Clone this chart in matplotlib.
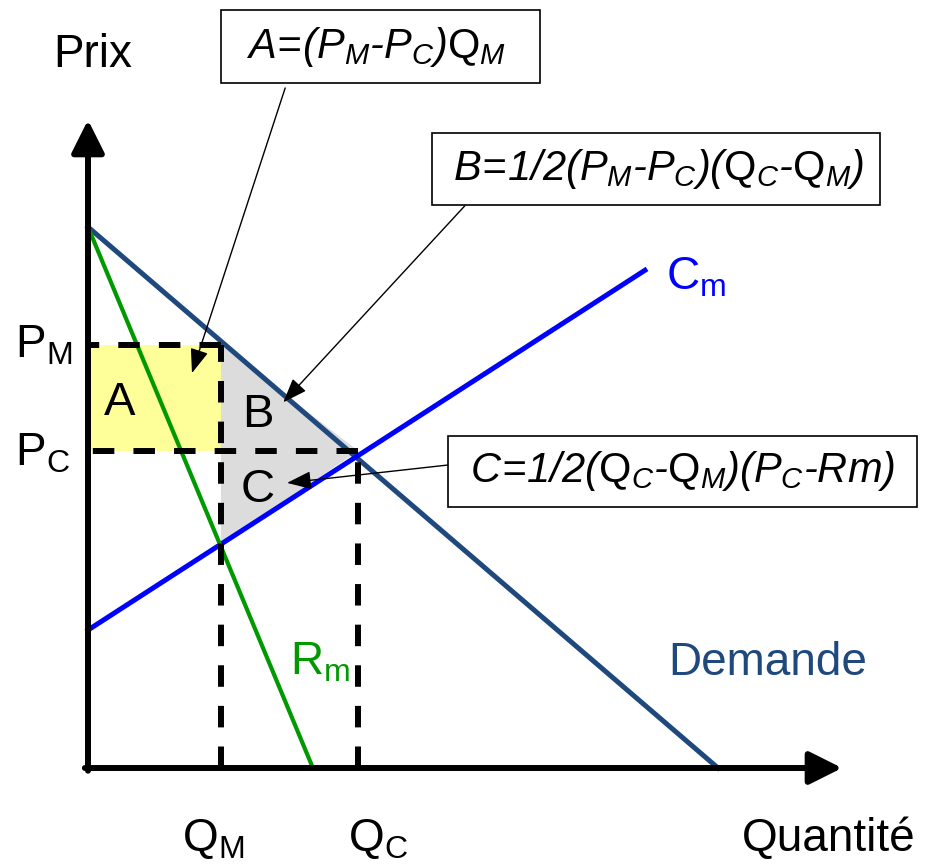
import numpy as np
import matplotlib.pyplot as plt
from matplotlib.patches import Rectangle

plt.rcParams['font.family'] = 'Liberation Sans'
plt.rcParams['mathtext.fontset'] = 'custom'
plt.rcParams['mathtext.rm'] = 'Liberation Sans:italic'
plt.rcParams['mathtext.it'] = 'Liberation Sans:italic'
plt.rcParams['mathtext.sf'] = 'Liberation Sans'

# curves (quantity, price)
demand_q = [0, 10]
demand_p = [10, 0]
rm_q = [0, 3.57]
rm_p = [10, 0]
cm_q = [0, 8.84]
cm_p = [2.55, 9.2]

# monopoly / competition points
q_m, q_c = 2.11, 4.29
p_m, p_c = 7.82, 5.86

col_dem = '#1F497D'
col_cm = '#0000FF'
col_rm = '#009900'

fig = plt.figure(figsize=(9.25, 8.66), dpi=100)
ax = fig.add_axes([0, 0, 1, 1])
ax.set_xlim(-88 / 63, (925 - 88) / 63)
ax.set_ylim((768 - 866) / 54.1, 768 / 54.1)
ax.axis('off')

# areas A (rectangle) and B+C (triangle)
ax.fill([0, q_m, q_m, 0], [p_c, p_c, p_m, p_m], color='#FFFF99', lw=0, zorder=1)
cm_at_qm = np.interp(q_m, cm_q, cm_p)
ax.fill([q_m, q_c, q_m], [p_m, p_c, cm_at_qm], color='#DCDCDC', lw=0, zorder=1)

# curves
ax.plot(demand_q, demand_p, color=col_dem, lw=3.6, zorder=3)
ax.plot(cm_q, cm_p, color=col_cm, lw=3.6, zorder=3)
ax.plot(rm_q, rm_p, color=col_rm, lw=3.0, zorder=3)

# dashed guides
dash = dict(color='black', lw=4.3, linestyle=(0, (3.6, 3.2)), dash_capstyle='butt', zorder=4)
ax.plot([q_m, 0], [p_m, p_m], **dash)
ax.plot([q_c, 0], [p_c, p_c], **dash)
ax.plot([q_m, q_m], [0, p_m], **dash)
ax.plot([q_c, q_c], [0, p_c], **dash)

# axes with arrows
axis_arrow = dict(arrowstyle='-|>,head_length=1.0,head_width=0.5', lw=4.3, color='black',
                  shrinkA=0, shrinkB=0, mutation_scale=20)
ax.annotate('', xy=(0, 11.98), xytext=(0, -0.05), arrowprops=axis_arrow, zorder=5)
ax.annotate('', xy=(11.97, 0), xytext=(-0.05, 0), arrowprops=axis_arrow, zorder=5)

# axis texts
ax.text(0.08, 13.18, 'Prix', fontsize=33, ha='center', va='center')
ax.text(10.38, -1.53, 'Quantité', fontsize=33, ha='left', va='baseline')
ax.text(-1.16, 7.58, r'$\mathsf{P}_{\mathsf{M}}$', fontsize=33, ha='left', va='baseline')
ax.text(-1.16, 5.60, r'$\mathsf{P}_{\mathsf{C}}$', fontsize=33, ha='left', va='baseline')
ax.text(1.49, -1.53, r'$\mathsf{Q}_{\mathsf{M}}$', fontsize=33, ha='left', va='baseline')
ax.text(4.13, -1.53, r'$\mathsf{Q}_{\mathsf{C}}$', fontsize=33, ha='left', va='baseline')

# curve labels
ax.text(9.21, 1.72, 'Demande', fontsize=33, color=col_dem, ha='left', va='baseline')
ax.text(3.21, 1.72, r'$\mathsf{R}_{\mathsf{m}}$', fontsize=33, color=col_rm, ha='left', va='baseline')
ax.text(9.17, 8.84, r'$\mathsf{C}_{\mathsf{m}}$', fontsize=33, color=col_cm, ha='left', va='baseline')

# area letters
ax.text(0.51, 6.75, 'A', fontsize=34, ha='center', va='center', zorder=6)
ax.text(2.70, 6.53, 'B', fontsize=34, ha='center', va='center', zorder=6)
ax.text(2.70, 5.14, 'C', fontsize=34, ha='center', va='center', zorder=6)

# formula boxes
boxes = [
    ((2.11, 12.66), 5.065, 1.35, (4.58, 13.33), r'$A\!=\!(P_M\text{-}P_C)\mathsf{Q}_M$'),
    ((5.46, 10.41), 7.11, 1.33, (9.05, 11.07), r'$B\!=\!1/2(P_M\text{-}P_C)(\mathsf{Q}_C\text{-}\mathsf{Q}_M)$'),
    ((5.71, 4.82), 7.45, 1.32, (9.43, 5.49), r'$C\!=\!1/2(\mathsf{Q}_C\text{-}\mathsf{Q}_M)(P_C\text{-}Rm)$'),
]
for (x0, y0), w, h, (tx, ty), label in boxes:
    ax.add_patch(Rectangle((x0, y0), w, h, fill=False, edgecolor='black', lw=1.2, zorder=6))
    ax.text(tx, ty, label, fontsize=30, ha='center', va='center', zorder=6)

# callout arrows
call = dict(arrowstyle='-|>,head_length=0.75,head_width=0.28', lw=1.0, color='black',
            shrinkA=0, shrinkB=0, mutation_scale=20)
ax.annotate('', xy=(1.65, 7.30), xytext=(3.13, 12.57), arrowprops=call, zorder=7)
ax.annotate('', xy=(3.10, 6.76), xytext=(5.98, 10.39), arrowprops=call, zorder=7)
ax.annotate('', xy=(3.16, 5.27), xytext=(5.71, 5.60), arrowprops=call, zorder=7)

plt.savefig('out.png', dpi=100)
